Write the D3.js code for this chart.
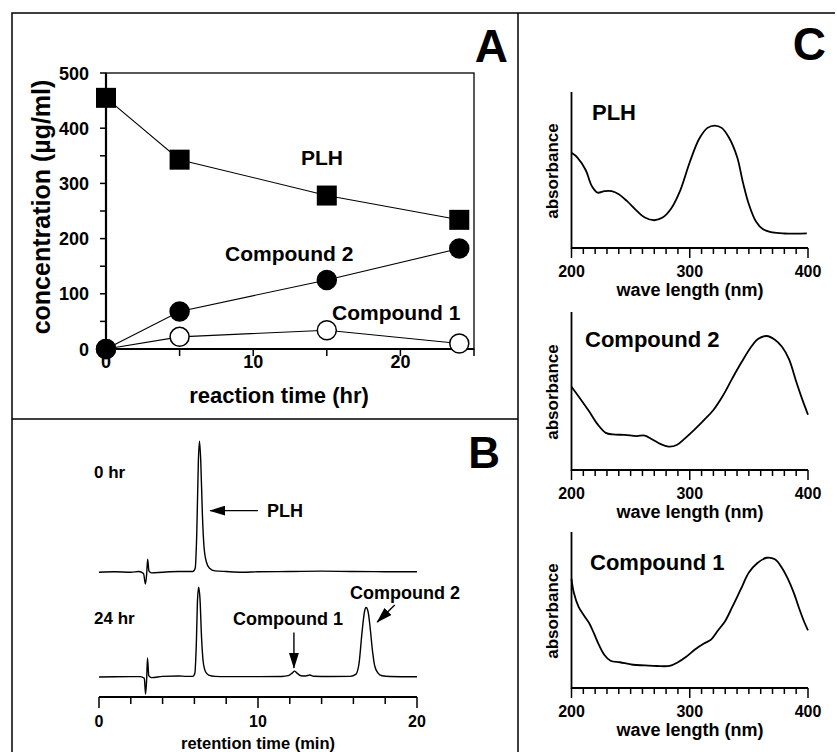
<!DOCTYPE html>
<html lang="en">
  <head>
    <meta charset="UTF-8" />
    <title>PLH conversion</title>
    <script src="https://d3js.org/d3.v7.min.js"></script>
    <style>
      body {
        margin: 0;
        background: #fff;
      }
      svg {
        display: block;
      }
      text {
        font-family: "Liberation Sans", Arial, sans-serif;
        font-weight: bold;
        fill: #000;
      }
    </style>
  </head>
  <body>
    <svg width="837" height="752"></svg>
    <script>
      // Panel A: concentration vs reaction time
      const hours = [0, 5, 15, 24];
      const plh = [455, 343, 278, 234];
      const compound2 = [0, 68, 125, 182];
      const compound1 = [0, 22, 34, 10];
      const concTicks = [0, 100, 200, 300, 400, 500];
      const hourTicks = [0, 10, 20];

      // Panel B: chromatograms [min, signal]
      const traceLabels = ["0 hr", "24 hr"];
      const traceOffsets = [80, 0];
      const trace0hr = [
        [0, 0], [1, 0.3], [2, 0], [2.5, 0.5], [2.8, -1], [2.92, -9], [3.0, -1],
        [3.06, 10], [3.14, 1], [3.3, -0.5], [4, 0], [5, 0.5], [5.9, 0.5],
        [6.05, 3], [6.15, 30], [6.25, 85], [6.32, 100], [6.4, 85], [6.5, 45],
        [6.6, 20], [6.75, 8], [6.95, 3], [7.3, 1], [8, 0.5], [9, 0], [10, 0.3],
        [12, 0.5], [14, 0.8], [16, 0.5], [18, 0.4], [20, 0.3]
      ];
      const trace24hr = [
        [0, 0], [1, 0.2], [2, 0.3], [2.6, 0.3], [2.85, -1], [2.93, -13], [3.0, -1],
        [3.05, 14.5], [3.13, 1], [3.3, -0.5], [4, 0.5], [5, 0.8], [5.5, 0.5],
        [5.9, 0.5], [6.03, 3], [6.12, 25], [6.2, 60], [6.27, 68.5], [6.35, 60],
        [6.45, 30], [6.55, 12], [6.7, 4], [6.9, 1.5], [7.3, 0.5], [8, 0.3],
        [10, 0.3], [11.5, 0.4], [11.9, 1], [12.15, 3], [12.3, 4.5], [12.45, 3],
        [12.7, 1], [13, 0.8], [13.25, 1.5], [13.5, 0.6], [14.5, 0.4], [15.8, 0.5],
        [16.15, 2], [16.35, 10], [16.55, 35], [16.7, 50], [16.8, 53], [16.92, 50],
        [17.05, 38], [17.2, 20], [17.35, 8], [17.55, 3], [17.8, 1], [18.3, 0.4],
        [20, 0.2]
      ];
      const minuteTicks = [0, 10, 20];

      // Panel C: UV spectra [nm, relative absorbance]
      const spectrumNames = ["PLH", "Compound 2", "Compound 1"];
      const plhSpectrum = [
        [200, 0.61], [205, 0.58], [212, 0.5], [217, 0.4], [222, 0.355],
        [228, 0.365], [234, 0.365], [240, 0.345], [247, 0.3], [255, 0.24],
        [262, 0.195], [270, 0.178], [277, 0.195], [284, 0.25], [292, 0.37],
        [300, 0.55], [308, 0.7], [315, 0.77], [321, 0.785], [327, 0.77],
        [333, 0.71], [340, 0.585], [345, 0.42], [350, 0.28], [356, 0.17],
        [362, 0.12], [370, 0.1], [380, 0.093], [390, 0.092], [399, 0.094]
      ];
      const compound2Spectrum = [
        [200, 0.527], [208, 0.445], [215, 0.37], [222, 0.29], [229, 0.235],
        [235, 0.225], [245, 0.222], [255, 0.215], [262, 0.218], [268, 0.195],
        [275, 0.165], [282, 0.148], [289, 0.158], [296, 0.2], [304, 0.255],
        [312, 0.315], [320, 0.38], [328, 0.47], [336, 0.58], [344, 0.685],
        [352, 0.78], [358, 0.83], [365, 0.848], [372, 0.825], [378, 0.78],
        [384, 0.7], [390, 0.56], [395, 0.45], [400, 0.35]
      ];
      const compound1Spectrum = [
        [200, 0.7], [202, 0.61], [206, 0.52], [211, 0.46], [215, 0.415],
        [219, 0.35], [223, 0.28], [228, 0.21], [233, 0.175], [241, 0.165],
        [252, 0.149], [262, 0.145], [272, 0.141], [283, 0.142], [290, 0.165],
        [297, 0.2], [305, 0.25], [312, 0.285], [318, 0.31], [324, 0.37],
        [330, 0.43], [336, 0.52], [343, 0.63], [350, 0.74], [357, 0.8],
        [365, 0.835], [372, 0.825], [378, 0.77], [383, 0.7], [388, 0.61],
        [393, 0.5], [397, 0.42], [400, 0.37]
      ];
      const spectra = [plhSpectrum, compound2Spectrum, compound1Spectrum];
      const nmTicks = [200, 300, 400];

      const svg = d3.select("svg");

      // outer frame and panel dividers
      svg
        .append("path")
        .attr("d", "M12,752V13H835M518,13V752M12,419H518")
        .attr("fill", "none")
        .attr("stroke", "#000")
        .attr("stroke-width", 1.5);

      function label(x, y, txt, size, anchor) {
        return svg
          .append("text")
          .attr("x", x)
          .attr("y", y)
          .attr("font-size", size)
          .attr("text-anchor", anchor || "start")
          .text(txt);
      }

      // ---------- Panel A ----------
      const xA = d3.scaleLinear().domain([0, 25]).range([106, 474]);
      const yA = d3.scaleLinear().domain([0, 500]).range([349, 73]);
      const gA = svg.append("g");

      gA.append("rect")
        .attr("x", xA(0))
        .attr("y", yA(500))
        .attr("width", xA(25) - xA(0))
        .attr("height", yA(0) - yA(500))
        .attr("fill", "none")
        .attr("stroke", "#000")
        .attr("stroke-width", 1.3);
      gA.append("path")
        .attr("d", `M${xA(0)},${yA(500)}V${yA(0)}H${xA(25)}`)
        .attr("fill", "none")
        .attr("stroke", "#000")
        .attr("stroke-width", 2.2);

      gA.selectAll(".ytick")
        .data(d3.range(0, 501, 50))
        .enter()
        .append("line")
        .attr("x1", xA(0) - 6)
        .attr("x2", xA(0))
        .attr("y1", (d) => yA(d))
        .attr("y2", (d) => yA(d))
        .attr("stroke", "#000")
        .attr("stroke-width", 1.5);
      gA.selectAll(".xtick")
        .data(d3.range(0, 26, 5))
        .enter()
        .append("line")
        .attr("x1", (d) => xA(d))
        .attr("x2", (d) => xA(d))
        .attr("y1", yA(0))
        .attr("y2", yA(0) + 7)
        .attr("stroke", "#000")
        .attr("stroke-width", 1.5);

      concTicks.forEach((v) => label(89, yA(v) + 6.5, v, 18, "end"));
      hourTicks.forEach((v) => label(xA(v), 368, v, 18, "middle"));
      label(279, 403, "reaction time (hr)", 22, "middle");
      svg
        .append("text")
        .attr("transform", "translate(50,207) rotate(-90)")
        .attr("text-anchor", "middle")
        .attr("font-size", 25)
        .text("concentration (\u00b5g/ml)");
      label(508, 62, "A", 46, "end");

      const lineA = d3
        .line()
        .x((d) => xA(d[0]))
        .y((d) => yA(d[1]));
      const seriesA = [
        { values: plh, shape: "square", fill: "#000" },
        { values: compound1, shape: "circle", fill: "#fff" },
        { values: compound2, shape: "circle", fill: "#000" }
      ];
      seriesA.forEach((s) => {
        const pts = hours.map((h, i) => [h, s.values[i]]);
        gA.append("path")
          .attr("d", lineA(pts))
          .attr("fill", "none")
          .attr("stroke", "#000")
          .attr("stroke-width", 1.1);
      });
      seriesA.forEach((s) => {
        const pts = hours.map((h, i) => [h, s.values[i]]);
        if (s.shape === "square") {
          gA.selectAll(null)
            .data(pts)
            .enter()
            .append("rect")
            .attr("x", (d) => xA(d[0]) - 10)
            .attr("y", (d) => yA(d[1]) - 10)
            .attr("width", 20)
            .attr("height", 20)
            .attr("fill", s.fill);
        } else {
          gA.selectAll(null)
            .data(pts)
            .enter()
            .append("circle")
            .attr("cx", (d) => xA(d[0]))
            .attr("cy", (d) => yA(d[1]))
            .attr("r", 9.5)
            .attr("fill", s.fill)
            .attr("stroke", "#000")
            .attr("stroke-width", 1.5);
        }
      });
      label(322, 165, "PLH", 21, "middle");
      label(225, 261, "Compound 2", 21);
      label(332, 320, "Compound 1", 21);

      // ---------- Panel B ----------
      const xB = d3.scaleLinear().domain([0, 20]).range([99, 417]);
      const yB = d3.scaleLinear().domain([0, 100]).range([677, 546]);
      const gB = svg.append("g");

      // arrowhead marker
      svg
        .append("defs")
        .append("marker")
        .attr("id", "arrow")
        .attr("markerUnits", "userSpaceOnUse")
        .attr("markerWidth", 16)
        .attr("markerHeight", 10)
        .attr("refX", 15)
        .attr("refY", 5)
        .attr("orient", "auto")
        .append("path")
        .attr("d", "M0,0L16,5L0,10Z")
        .attr("fill", "#000");

      const lineB = d3
        .line()
        .curve(d3.curveMonotoneX)
        .x((d) => xB(d[0]));
      [trace0hr, trace24hr].forEach((trace, i) => {
        gB.append("path")
          .attr("d", lineB.y((d) => yB(d[1] + traceOffsets[i]))(trace))
          .attr("fill", "none")
          .attr("stroke", "#000")
          .attr("stroke-width", 1.4);
        label(94, yB(traceOffsets[i]) - (i === 0 ? 94 : 53), traceLabels[i], 17);
      });

      const axisYB = 697;
      gB.append("line")
        .attr("x1", xB(0))
        .attr("x2", xB(20))
        .attr("y1", axisYB)
        .attr("y2", axisYB)
        .attr("stroke", "#000")
        .attr("stroke-width", 2);
      gB.selectAll(".btick")
        .data(d3.range(0, 21, 2))
        .enter()
        .append("line")
        .attr("x1", (d) => xB(d))
        .attr("x2", (d) => xB(d))
        .attr("y1", axisYB)
        .attr("y2", (d) => axisYB + (d % 10 === 0 ? 11 : 7))
        .attr("stroke", "#000")
        .attr("stroke-width", 1.5);
      minuteTicks.forEach((v) => label(xB(v), 727, v, 16, "middle"));
      label(258, 749, "retention time (min)", 16.5, "middle");
      label(500, 468, "B", 44, "end");

      // peak annotations
      const arrows = [
        [[10.0, 127], [7.0, 127]],
        [[12.26, 34], [12.26, 7]],
        [[18.6, 55], [17.5, 42]]
      ];
      arrows.forEach((a) => {
        gB.append("line")
          .attr("x1", xB(a[0][0]))
          .attr("y1", yB(a[0][1]))
          .attr("x2", xB(a[1][0]))
          .attr("y2", yB(a[1][1]))
          .attr("stroke", "#000")
          .attr("stroke-width", 1.4)
          .attr("marker-end", "url(#arrow)");
      });
      label(267, 517, "PLH", 18);
      label(233, 625, "Compound 1", 18);
      label(350, 599, "Compound 2", 18);

      // ---------- Panel C ----------
      label(826, 60, "C", 46, "end");
      const axisYs = [248, 470, 688];
      const topYs = [92, 312, 532];
      const nameX = [592, 585, 590];
      const nameY = [120, 347, 570];
      const xC = d3.scaleLinear().domain([200, 400]).range([571.5, 808]);

      spectra.forEach((spec, i) => {
        const yC = d3.scaleLinear().domain([0, 1]).range([axisYs[i], topYs[i]]);
        const g = svg.append("g");
        g.append("path")
          .attr("d", `M${xC(200)},${topYs[i]}V${axisYs[i]}H${xC(400)}`)
          .attr("fill", "none")
          .attr("stroke", "#000")
          .attr("stroke-width", 1.8);
        g.selectAll(null)
          .data(d3.range(200, 401, 10))
          .enter()
          .append("line")
          .attr("x1", (d) => xC(d))
          .attr("x2", (d) => xC(d))
          .attr("y1", axisYs[i])
          .attr("y2", (d) => axisYs[i] + (d % 100 === 0 ? 10 : 6))
          .attr("stroke", "#000")
          .attr("stroke-width", 1.5);
        nmTicks.forEach((v) => label(xC(v), axisYs[i] + 29, v, 16, "middle"));
        label(690, axisYs[i] + 48, "wave length (nm)", 18, "middle");
        svg
          .append("text")
          .attr(
            "transform",
            `translate(558,${(axisYs[i] + topYs[i]) / 2 + 1}) rotate(-90)`
          )
          .attr("text-anchor", "middle")
          .attr("font-size", 17)
          .text("absorbance");
        label(nameX[i], nameY[i], spectrumNames[i], 22);

        const lineC = d3
          .line()
          .curve(d3.curveCatmullRom)
          .x((d) => xC(d[0]))
          .y((d) => yC(d[1]));
        g.append("path")
          .attr("d", lineC(spec))
          .attr("fill", "none")
          .attr("stroke", "#000")
          .attr("stroke-width", 1.8);
      });
    </script>
  </body>
</html>
